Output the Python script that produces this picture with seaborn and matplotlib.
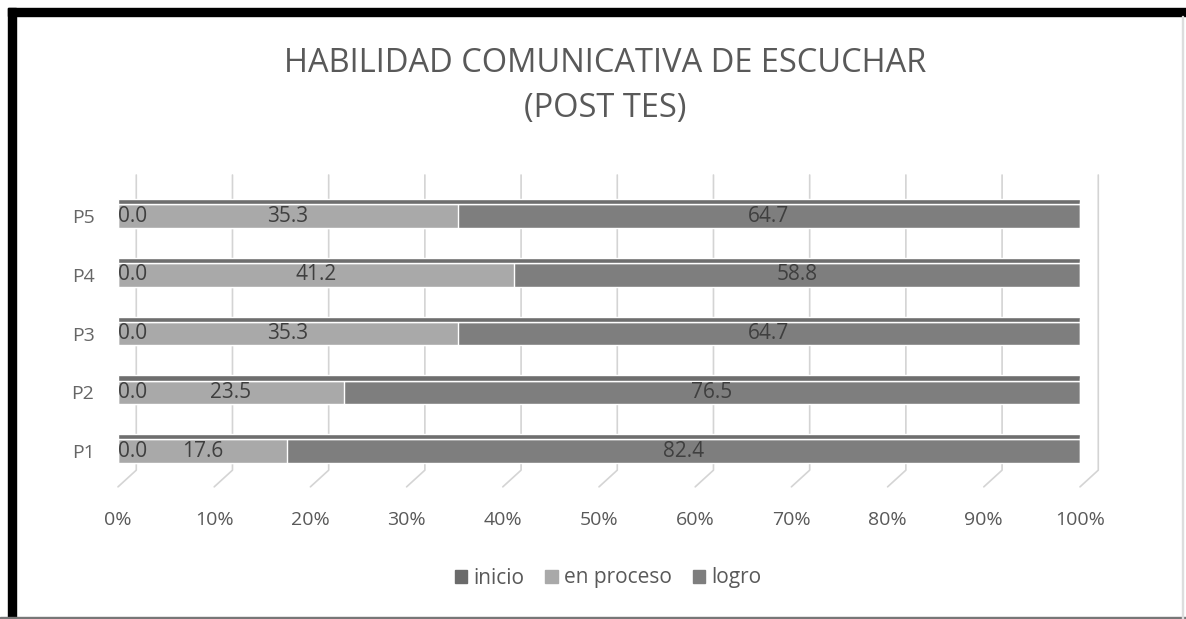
'''
Grafico de barras apiladas: habilidad comunicativa de escuchar (post test).
'''

import matplotlib
matplotlib.use('Agg')
import matplotlib.pyplot as plt
import matplotlib.patches as mpatches
import pandas as pd
import seaborn as sns

# Datos
preguntas = ['P5', 'P4', 'P3', 'P2', 'P1']
inicio = [0.0, 0.0, 0.0, 0.0, 0.0]
en_proceso = [35.3, 41.2, 35.3, 23.5, 17.6]
logro = [64.7, 58.8, 64.7, 76.5, 82.4]

niveles = ['inicio', 'en proceso', 'logro']
colores = {'inicio': '#6b6b6b', 'en proceso': '#a9a9a9', 'logro': '#7e7e7e'}
ticks_x = list(range(0, 101, 10))

df = pd.DataFrame({'pregunta': preguntas, 'inicio': inicio,
                   'en proceso': en_proceso, 'logro': logro})
df['c_inicio'] = df['inicio']
df['c_proceso'] = df['c_inicio'] + df['en proceso']
df['c_logro'] = df['c_proceso'] + df['logro']

sns.set_theme(style='white')
plt.rcParams['font.family'] = ['Open Sans', 'DejaVu Sans']

W, H = 1186, 619
fig = plt.figure(figsize=(W / 100, H / 100), dpi=100)
ax = fig.add_axes([118 / W, 1 - 490 / H, 962 / W, 315 / H])

alto = 0.4
# barras apiladas (de la ultima a la primera)
sns.barplot(data=df, x='c_logro', y='pregunta', order=preguntas, color=colores['logro'],
            width=alto, saturation=1, ax=ax, zorder=3)
sns.barplot(data=df, x='c_proceso', y='pregunta', order=preguntas, color=colores['en proceso'],
            width=alto, saturation=1, ax=ax, zorder=3)
sns.barplot(data=df, x='c_inicio', y='pregunta', order=preguntas, color=colores['inicio'],
            width=alto, saturation=1, ax=ax, zorder=3)

# efecto 3D: cara superior y lateral
pos = range(len(preguntas))
ax.barh([p - alto / 2 - 0.045 for p in pos], df['c_logro'], height=0.09,
        color='#6e6e6e', zorder=3)
ax.barh(list(pos), 0.7, left=df['c_logro'], height=alto + 0.09,
        color='#4f4f4f', zorder=3)

# etiquetas de valores
for i, fila in df.iterrows():
    ax.text(fila['c_inicio'] - fila['inicio'] / 2, i, f"{fila['inicio']:.1f}", ha='left',
            va='center', fontsize=15, color='#3f3f3f', zorder=5)
    ax.text(fila['c_inicio'] + fila['en proceso'] / 2, i, f"{fila['en proceso']:.1f}",
            ha='center', va='center', fontsize=15, color='#3f3f3f', zorder=5)
    ax.text(fila['c_proceso'] + fila['logro'] / 2, i, f"{fila['logro']:.1f}",
            ha='center', va='center', fontsize=15, color='#3f3f3f', zorder=5)

# rejilla de la pared del fondo con el piso en perspectiva
for t in ticks_x:
    xa = t / 100
    ax.plot([xa + 0.019, xa + 0.019, xa], [1.0, 0.063, 0.01], transform=ax.transAxes,
            color='#d4d4d4', lw=1.2, zorder=1, clip_on=False)

ax.set_xlim(0, 100)
ax.set_ylim(len(preguntas) - 1 + 0.66, -0.70)
ax.set_xticks(ticks_x)
ax.set_xticklabels([f'{t}%' for t in ticks_x])
ax.tick_params(axis='x', length=0, pad=15, labelsize=14, labelcolor='#595959')
ax.tick_params(axis='y', length=0, pad=17, labelsize=14, labelcolor='#666666')
ax.set_xlabel('')
ax.set_ylabel('')
for s in ax.spines.values():
    s.set_visible(False)
ax.patch.set_alpha(0)

fig.text(605 / W, 1 - 86 / H, 'HABILIDAD COMUNICATIVA DE ESCUCHAR\n(POST TES)',
         ha='center', va='center', fontsize=23.5, color='#595959', linespacing=1.45)

handles = [mpatches.Patch(color=colores[n], label=n) for n in niveles]
fig.legend(handles=handles, loc='center', bbox_to_anchor=(608 / W, 1 - 578 / H), ncol=3,
           frameon=False, fontsize=15, handlelength=0.6, handleheight=0.6,
           columnspacing=1.0, handletextpad=0.3, labelcolor='#595959')

# marco de la imagen
fig.patches.append(mpatches.Rectangle((8 / W, 0), 8 / W, 1 - 8 / H, transform=fig.transFigure,
                                      color='black', zorder=10))
fig.patches.append(mpatches.Rectangle((8 / W, 1 - 16 / H), 1 - 8 / W, 8 / H,
                                      transform=fig.transFigure, color='black', zorder=10))
fig.patches.append(mpatches.Rectangle((0, 0), 1, 2 / H, transform=fig.transFigure,
                                      color='#777777', zorder=10))
fig.patches.append(mpatches.Rectangle((1 - 4 / W, 0), 1 / W, 1 - 16 / H,
                                      transform=fig.transFigure, color='#dddddd', zorder=10))

fig.savefig('out.png', dpi=100)
